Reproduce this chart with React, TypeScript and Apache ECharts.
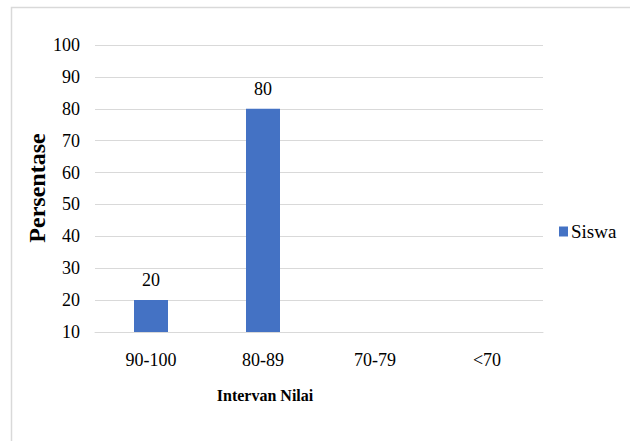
import React, { useEffect, useRef } from "react";
import * as echarts from "echarts";

const categories = ["90-100", "80-89", "70-79", "<70"];
const sisValues = [20, 80, 0, 0];
const seriesName = "Siswa";
const yTitle = "Persentase";
const xTitle = "Intervan Nilai";

const FONT = '"Liberation Serif", "Times New Roman", serif';

export default function App() {
  const ref = useRef<HTMLDivElement>(null);
  useEffect(() => {
    if (!ref.current) return;
    const chart = echarts.init(ref.current, undefined, { renderer: "svg" });
    chart.setOption({
      animation: false,
      backgroundColor: "#ffffff",
      textStyle: { fontFamily: FONT },
      grid: { left: 95, right: 87, top: 45, bottom: 109 },
      legend: {
        data: [seriesName],
        left: 554,
        top: 217,
        icon: "rect",
        itemWidth: 9,
        itemHeight: 10,
        itemGap: 4,
        textStyle: { fontFamily: FONT, fontSize: 19, color: "#000", padding: [0, 0, 0, -2] },
      },
      graphic: [
        {
          type: "rect",
          shape: { x: 11.5, y: 7.5, width: 700, height: 500 },
          style: { fill: "none", stroke: "#d9d9d9", lineWidth: 1.5 },
          silent: true,
        },
        {
          type: "text",
          x: 265,
          y: 395,
          style: {
            text: xTitle,
            fontFamily: FONT,
            fontSize: 16,
            fontWeight: "bold",
            fill: "#000",
            align: "center",
            verticalAlign: "middle",
          },
        },
        {
          type: "text",
          x: 37,
          y: 188,
          rotation: Math.PI / 2,
          style: {
            text: yTitle,
            fontFamily: FONT,
            fontSize: 24,
            fontWeight: "bold",
            fill: "#000",
            align: "center",
            verticalAlign: "middle",
          },
        },
      ],
      xAxis: {
        type: "category",
        data: categories,
        axisLine: { show: true, lineStyle: { color: "#d9d9d9", width: 1 } },
        axisTick: { show: false },
        axisLabel: { fontFamily: FONT, fontSize: 18, color: "#000", margin: 19 },
      },
      yAxis: {
        type: "value",
        min: 10,
        max: 100,
        interval: 10,
        axisLine: { show: false },
        axisTick: { show: false },
        axisLabel: { fontFamily: FONT, fontSize: 18, color: "#000", margin: 15 },
        splitLine: { lineStyle: { color: "#d9d9d9", width: 1 } },
      },
      series: [
        {
          name: seriesName,
          type: "bar",
          data: sisValues,
          barWidth: 34,
          clip: true,
          itemStyle: { color: "#4472c4" },
          label: {
            show: true,
            position: "top",
            distance: 11,
            fontFamily: FONT,
            fontSize: 18,
            color: "#000",
            formatter: (p: any) => (p.value > 10 ? String(p.value) : ""),
          },
        },
      ],
    });
    return () => chart.dispose();
  }, []);
  return (
    <div
      ref={ref}
      style={{ position: "fixed", left: 0, top: 0, width: 630, height: 441 }}
    />
  );
}
